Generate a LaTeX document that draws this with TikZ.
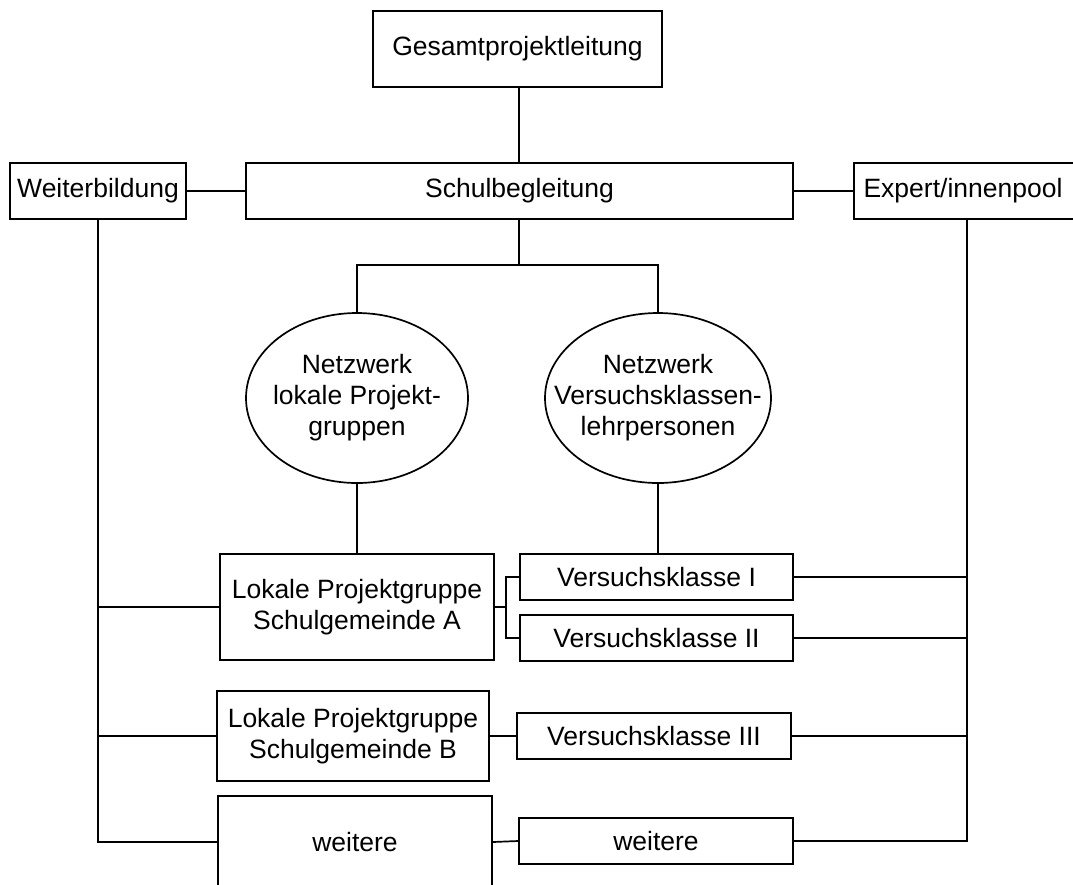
\documentclass[tikz,border=0pt]{standalone}
\usepackage{fontspec}
\setmainfont{Liberation Sans}
\usetikzlibrary{shapes.geometric}
\begin{document}
\begin{tikzpicture}[x=1pt,y=-1pt,
  every node/.style={font=\fontsize{26.5}{31}\selectfont, inner sep=0pt, align=center},
  box/.style={draw, line width=1.7pt, rectangle},
  oval/.style={draw, line width=1.7pt, ellipse, inner sep=0pt},
  conn/.style={line width=1.7pt}]
\useasboundingbox (0,0) rectangle (1073,884);
\clip (0,0) rectangle (1073,884);
\node[box, minimum width=289pt, minimum height=76pt] (gpl) at (517.5,49) {Gesamtprojektleitung};
\node[box, minimum width=547pt, minimum height=56pt] (sb) at (519.5,191) {Schulbegleitung};
\node[box, minimum width=176pt, minimum height=56pt] (wb) at (98,191) {Weiterbildung};
\node[box, anchor=west, minimum width=300pt, minimum height=56pt] (ep) at (853,191) {};
\node (ept) at (963,191) {Expert/innenpool};
\node[oval, minimum width=222pt, minimum height=170pt] (e1) at (357,398) {};
\node (e1t) at (e1.center) {Netzwerk\\lokale Projekt-\\gruppen};
\node[oval, minimum width=226pt, minimum height=170pt] (e2) at (658,398) {};
\node (e2t) at (e2.center) {Netzwerk\\Versuchsklassen-\\lehrpersonen};
\node[box, minimum width=274pt, minimum height=106pt] (la) at (357,607) {Lokale Projektgruppe\\Schulgemeinde A};
\node[box, minimum width=273pt, minimum height=46pt] (vk1) at (656.5,577) {Versuchsklasse I};
\node[box, minimum width=273pt, minimum height=46pt] (vk2) at (656.5,638) {Versuchsklasse II};
\node[box, minimum width=272pt, minimum height=90pt] (lb) at (353,736) {Lokale Projektgruppe\\Schulgemeinde B};
\node[box, minimum width=274pt, minimum height=46pt] (vk3) at (654,736) {Versuchsklasse III};
\node[box, minimum width=274pt, minimum height=92pt] (w1) at (355,842) {weitere};
\node[box, minimum width=274pt, minimum height=46pt] (w2) at (656,841) {weitere};
\coordinate (j) at (519,265);
\coordinate (bx) at (506,607);
\coordinate (er) at (967,191);
\draw[conn] (gpl.south -| j) -- (j |- sb.north);
\draw[conn] (wb.east) -- (sb.west);
\draw[conn] (sb.east) -- (ep.west);
\draw[conn] (j |- sb.south) -- (j);
\draw[conn] (e1.north) -- (e1.north |- j) -- (e2.north |- j) -- (e2.north);
\draw[conn] (e1.south) -- (e1.south |- la.north);
\draw[conn] (e2.south) -- (e2.south |- vk1.north);
\draw[conn] (la.east) -- (bx);
\draw[conn] (vk1.west) -- (bx |- vk1.west) -- (bx |- vk2.west) -- (vk2.west);
\draw[conn] (wb.south) -- (wb.south |- w1.west) -- (w1.west);
\draw[conn] (la.west) -- (la.west -| wb.south);
\draw[conn] (lb.west) -- (lb.west -| wb.south);
\draw[conn] (er |- ep.south) -- (er |- w2.east) -- (w2.east);
\draw[conn] (vk1.east) -- (vk1.east -| er);
\draw[conn] (vk2.east) -- (vk2.east -| er);
\draw[conn] (vk3.east) -- (vk3.east -| er);
\draw[conn] (lb.east) -- (vk3.west);
\draw[conn] (w1.east) -- (w2.west);
\end{tikzpicture}
\end{document}
